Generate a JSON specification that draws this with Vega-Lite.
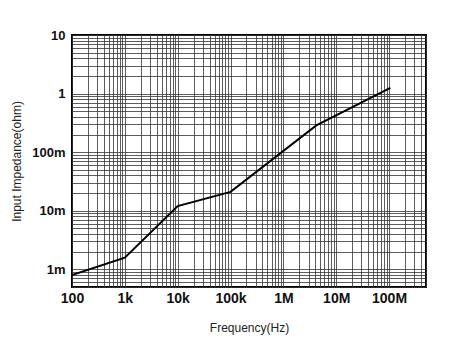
{
  "$schema": "https://vega.github.io/schema/vega-lite/v6.json",
  "width": 354,
  "height": 252,
  "autosize": "none",
  "padding": {"left": 72, "top": 35, "right": 33, "bottom": 52},
  "background": "white",
  "config": {
    "view": {"stroke": "#000", "strokeWidth": 2},
    "font": "Liberation Sans"
  },
  "data": {
    "values": [
      {"freq": 100, "imp": 0.0008},
      {"freq": 1000, "imp": 0.00158},
      {"freq": 10000, "imp": 0.012},
      {"freq": 100000, "imp": 0.021},
      {"freq": 4200000, "imp": 0.287},
      {"freq": 106000000, "imp": 1.25}
    ]
  },
  "mark": {"type": "line", "color": "#000", "strokeWidth": 2, "clip": true},
  "encoding": {
    "x": {
      "field": "freq",
      "type": "quantitative",
      "scale": {"type": "log", "domain": [100, 500000000], "nice": false},
      "axis": {
        "title": "Frequency(Hz)",
        "titleFont": "Liberation Sans",
        "titleFontSize": 12,
        "titleFontWeight": "normal",
        "titleColor": "#222",
        "titlePadding": 17,
        "values": [100,200,300,400,500,600,700,800,900,1000,2000,3000,4000,5000,6000,7000,8000,9000,10000,20000,30000,40000,50000,60000,70000,80000,90000,100000,200000,300000,400000,500000,600000,700000,800000,900000,1000000,2000000,3000000,4000000,5000000,6000000,7000000,8000000,9000000,10000000,20000000,30000000,40000000,50000000,60000000,70000000,80000000,90000000,100000000,200000000,300000000,400000000,500000000],
        "labelExpr": "datum.value == 100 ? '100' : datum.value == 1000 ? '1k' : datum.value == 10000 ? '10k' : datum.value == 100000 ? '100k' : datum.value == 1000000 ? '1M' : datum.value == 10000000 ? '10M' : datum.value == 100000000 ? '100M' : ''",
        "labelFont": "Liberation Sans",
        "labelFontSize": 14,
        "labelFontWeight": "bold",
        "labelColor": "#111",
        "labelDx": 5,
        "labelPadding": 4,
        "labelOverlap": false,
        "labelFlush": false,
        "labelBound": false,
        "ticks": false,
        "domain": false,
        "grid": true,
        "gridColor": "#333",
        "gridWidth": 0.8
      }
    },
    "y": {
      "field": "imp",
      "type": "quantitative",
      "scale": {"type": "log", "domain": [0.0005, 10], "nice": false},
      "axis": {
        "title": "Input Impedance(ohm)",
        "titleFont": "Liberation Sans",
        "titleFontSize": 12,
        "titleFontWeight": "normal",
        "titleColor": "#222",
        "titlePadding": 8,
        "values": [0.0005,0.0006,0.0007,0.0008,0.0009,0.001,0.002,0.003,0.004,0.005,0.006,0.007,0.008,0.009,0.01,0.02,0.03,0.04,0.05,0.06,0.07,0.08,0.09,0.1,0.2,0.3,0.4,0.5,0.6,0.7,0.8,0.9,1,2,3,4,5,6,7,8,9,10],
        "labelExpr": "datum.value == 10 ? '10' : datum.value == 1 ? '1' : datum.value == 0.1 ? '100m' : datum.value == 0.01 ? '10m' : datum.value == 0.001 ? '1m' : ''",
        "labelFont": "Liberation Sans",
        "labelFontSize": 13,
        "labelFontWeight": "bold",
        "labelColor": "#111",
        "labelPadding": 7,
        "labelOverlap": false,
        "labelFlush": false,
        "labelBound": false,
        "ticks": false,
        "domain": false,
        "grid": true,
        "gridColor": "#333",
        "gridWidth": 0.8
      }
    }
  }
}
